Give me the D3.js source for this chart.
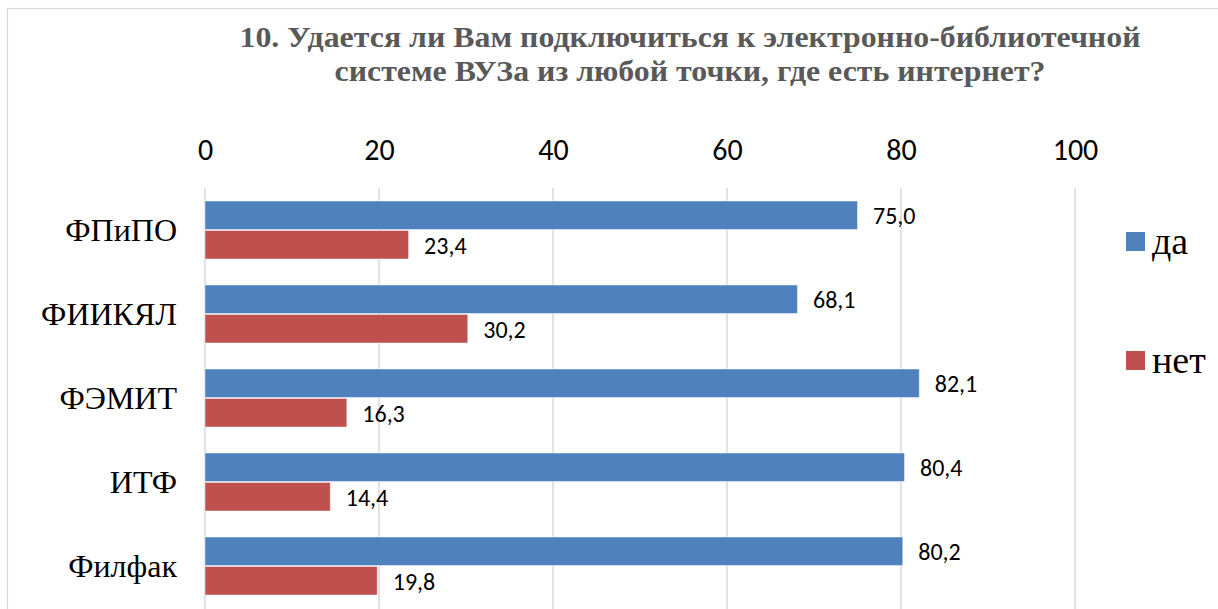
<!DOCTYPE html>
<html>
<head>
<meta charset="utf-8">
<title>chart</title>
<script src="https://cdnjs.cloudflare.com/ajax/libs/d3/7.8.5/d3.min.js"></script>
<style>
  body { margin: 0; background: #ffffff; }
  #chart { display: block; }
</style>
</head>
<body>
<svg id="chart" width="1218" height="609"></svg>
<script>
"use strict";

// values
let categories = ["ФПиПО", "ФИИКЯЛ", "ФЭМИТ", "ИТФ", "Филфак"];
let seriesNames = ["да", "нет"];
let yesValues = [75.0, 68.1, 82.1, 80.4, 80.2];
let noValues = [23.4, 30.2, 16.3, 14.4, 19.8];
let tickValues = [0, 20, 40, 60, 80, 100];
let titleLines = [
  "10. Удается ли Вам подключиться к электронно-библиотечной",
  "системе ВУЗа из любой точки, где есть интернет?"
];

let colors = ["#4F81BD", "#C0504D"];
let serifFont = "'Liberation Serif', Tinos, serif";
let sansFont = "Carlito, 'Liberation Sans', sans-serif";

let svg = d3.select("#chart");

// outer chart border, cut off on right and bottom
svg.append("rect")
  .attr("x", 7.5).attr("y", 8.5)
  .attr("width", 1300).attr("height", 700)
  .attr("fill", "none")
  .attr("stroke", "#d9d9d9")
  .attr("stroke-width", 1.2);

// title, two lines
let titleWidths = [901, 711];
svg.append("g").selectAll("text").data(titleLines).enter()
  .append("text")
  .attr("x", 690)
  .attr("y", (d, i) => 47 + i * 34)
  .attr("text-anchor", "middle")
  .attr("font-family", serifFont)
  .attr("font-weight", "bold")
  .attr("font-size", 29)
  .attr("fill", "#595959")
  .attr("textLength", (d, i) => titleWidths[i])
  .attr("lengthAdjust", "spacingAndGlyphs")
  .text(d => d);

let x = d3.scaleLinear().domain([0, 100]).range([205, 1075]);
let y = d3.scaleBand().domain(categories).range([188, 608]).paddingInner(0.31).paddingOuter(0.155);
let inner = d3.scaleBand().domain(seriesNames).range([0, y.bandwidth()]).paddingInner(0.035);

// vertical gridlines
svg.append("g").selectAll("line").data(tickValues).enter()
  .append("line")
  .attr("x1", d => x(d)).attr("x2", d => x(d))
  .attr("y1", 188).attr("y2", 609)
  .attr("stroke", "#d9d9d9")
  .attr("stroke-width", 1.5);

// value axis on top
let axis = svg.append("g")
  .attr("transform", "translate(0,159.5)")
  .call(d3.axisTop(x).tickValues(tickValues).tickSize(0).tickPadding(0));
axis.select(".domain").remove();
axis.attr("font-family", sansFont).attr("font-size", 30);
axis.selectAll("text").attr("fill", "#000");

// category labels
svg.append("g").selectAll("text").data(categories).enter()
  .append("text")
  .attr("x", 177)
  .attr("y", d => y(d) + y.bandwidth() / 2 + 11)
  .attr("text-anchor", "end")
  .attr("font-family", serifFont)
  .attr("font-size", 32)
  .attr("fill", "#000")
  .text(d => d);

let rows = categories.map((c, i) => ({ cat: c, values: [yesValues[i], noValues[i]] }));

let groups = svg.append("g").selectAll("g").data(rows).enter()
  .append("g")
  .attr("transform", d => "translate(0," + y(d.cat) + ")");

let bars = groups.selectAll("g")
  .data(d => d.values.map((v, j) => ({ name: seriesNames[j], value: v, idx: j })))
  .enter().append("g");

bars.append("rect")
  .attr("x", x(0))
  .attr("y", d => inner(d.name))
  .attr("width", d => x(d.value) - x(0))
  .attr("height", inner.bandwidth())
  .attr("fill", d => colors[d.idx])
  .attr("stroke", "#ffffff")
  .attr("stroke-opacity", 0.45)
  .attr("stroke-width", 1);

bars.append("text")
  .attr("x", d => x(d.value) + 15.5)
  .attr("y", d => inner(d.name) + inner.bandwidth() / 2 + 9)
  .attr("font-family", sansFont)
  .attr("font-size", 24)
  .attr("fill", "#000")
  .text(d => d3.format(".1f")(d.value).replace(".", ","));

// legend
let legend = svg.append("g").selectAll("g").data(seriesNames).enter()
  .append("g")
  .attr("transform", (d, i) => "translate(1126," + (232 + i * 119) + ")");

legend.append("rect")
  .attr("width", 19).attr("height", 19)
  .attr("fill", (d, i) => colors[i]);

legend.append("text")
  .attr("x", 26)
  .attr("y", 22)
  .attr("font-family", serifFont)
  .attr("font-size", 38)
  .attr("fill", "#000")
  .text(d => d);
</script>
</body>
</html>
